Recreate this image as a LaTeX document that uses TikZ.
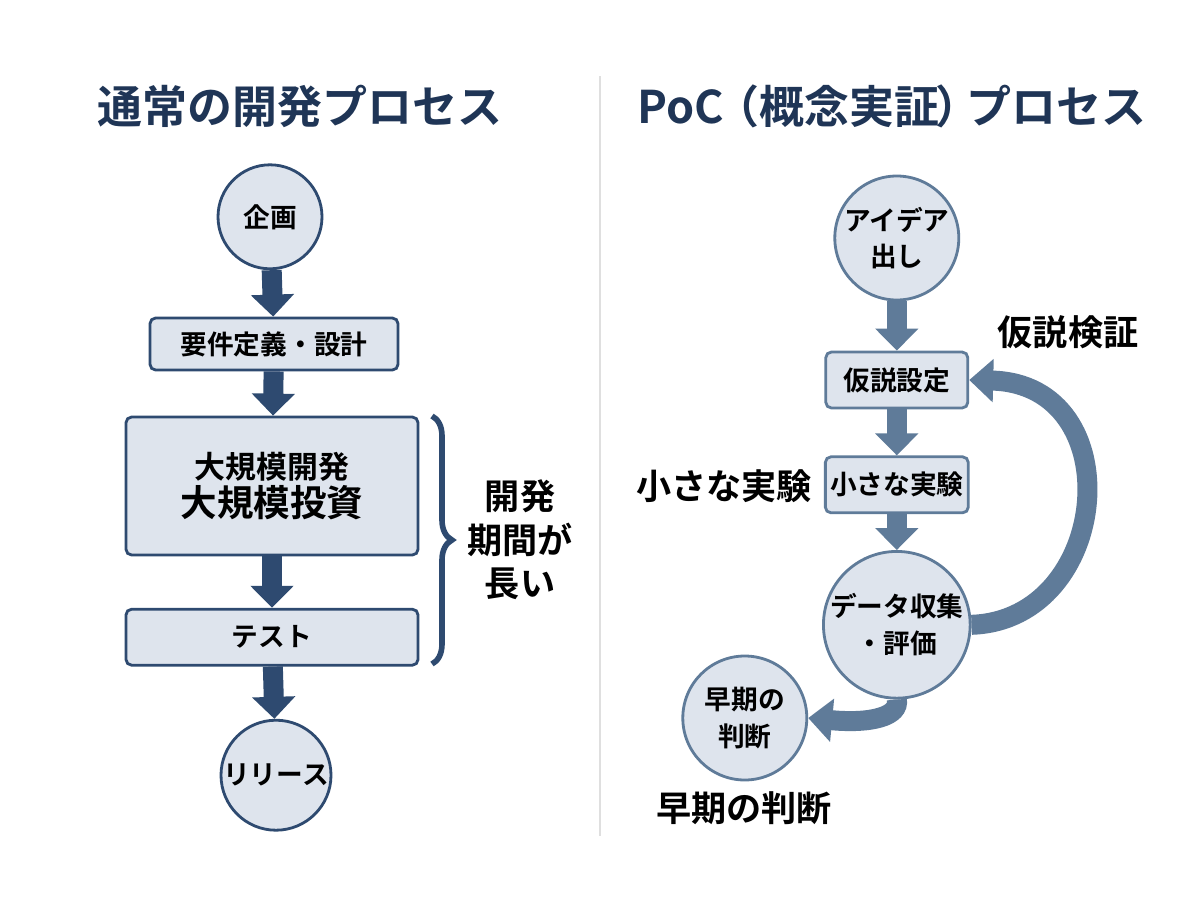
\documentclass[tikz,border=0pt]{standalone}
\usepackage{fontspec}
\setmainfont{Noto Sans CJK JP}[BoldFont={Noto Sans CJK JP Bold}]
\usetikzlibrary{positioning,arrows.meta,decorations.pathreplacing,calc}
\definecolor{navy}{HTML}{1F3556}
\definecolor{darkbl}{HTML}{2E4A70}
\definecolor{steel}{HTML}{5F7B99}
\definecolor{boxfill}{HTML}{DEE4ED}
\tikzset{
  stage/.style={draw=darkbl, line width=2pt, fill=boxfill, rounded corners=4pt, font=\bfseries\fontsize{19}{24}\selectfont, align=center},
  stagec/.style={draw=steel, line width=2pt, fill=boxfill, circle, inner sep=0pt, font=\bfseries\fontsize{19}{26}\selectfont, align=center},
  flow/.style={line width=0.5cm, -{Triangle[width=1.05cm,length=0.55cm]}},
  note/.style={font=\bfseries\fontsize{25}{31}\selectfont, align=center, text=black},
  head/.style={font=\bfseries\fontsize{32}{36}\selectfont, text=navy}
}
\begin{document}
\begin{tikzpicture}
\useasboundingbox[fill=white] (0,0) rectangle (30,-22.4);
% titles and divider
\node[head] (tl) at (7.5,-2.65) {通常の開発プロセス};
\node[head] (tr) at (22.3,-2.65) {PoC\kern-0.2em（概念実証\kern-0.1em）\kern-0.3emプロセス};
\draw[gray!25, line width=1pt] (15,-1.9) -- (15,-20.9);

% ordinary process
\node[stagec, draw=darkbl, minimum size=2.6cm] (plan) at (6.75,-5.42) {企画};
\node[stage, minimum width=6.2cm, minimum height=1.3cm] (req) at (6.85,-8.6) {要件定義・設計};
\node[stage, minimum width=7.3cm, minimum height=3.45cm] (dev) at (6.8,-12.15) {\fontsize{22}{28}\selectfont 大規模開発\\[2pt]\fontsize{26}{31}\selectfont 大規模投資};
\node[stage, minimum width=7.3cm, minimum height=1.4cm] (test) at (6.8,-15.93) {テスト};
\node[stagec, draw=darkbl, minimum size=2.75cm] (rel) at (6.9,-19.38) {リリース};
\draw[flow, darkbl] (plan) -- (req);
\draw[flow, darkbl] (req) -- (dev);
\draw[flow, darkbl] (dev) -- (test);
\draw[flow, darkbl] (test) -- (rel);
\coordinate (bt) at (10.8,-10.4);
\coordinate (bb) at (10.8,-16.6);
\draw[darkbl, line width=4pt, decorate, decoration={brace, amplitude=0.5cm}] (bt) -- (bb);
\node[note] (long) at (13,-13.5) {開発\\期間が\\長い};

% PoC process
\node[stagec, minimum size=3.1cm] (idea) at (22.42,-5.95) {アイデア\\出し};
\node[stage, draw=steel, minimum width=3.55cm, minimum height=1.4cm] (hyp) at (22.42,-9.5) {仮説設定};
\node[stage, draw=steel, minimum width=3.55cm, minimum height=1.4cm] (exp) at (22.42,-12.12) {小さな実験};
\node[stagec, minimum size=3.25cm] (data) at (22.42,-15.62) {データ収集\\・評価};
\node[stagec, minimum size=3.1cm] (early) at (18.62,-17.95) {早期の\\判断};
\draw[flow, steel] (idea) -- (hyp);
\draw[flow, steel] (hyp) -- (exp);
\draw[flow, steel] (exp) -- (data);
\draw[steel, line width=0.5cm, -{Triangle[width=1.05cm,length=0.6cm]}]
  (data.east) .. controls (27.8,-15.5) and (28.3,-9.6) .. (hyp.east);
\draw[steel, line width=0.5cm, -{Triangle[width=1.05cm,length=0.6cm]}]
  (data.south) .. controls (22.5,-17.9) and (21.8,-18.1) .. (early.east);
\node[note] (lhyp) at (26.7,-8.3) {仮説検証};
\node[note] (lexp) at (18.1,-12.15) {小さな実験};
\node[note] (learly) at (18.6,-20.2) {早期の判断};
\end{tikzpicture}
\end{document}
